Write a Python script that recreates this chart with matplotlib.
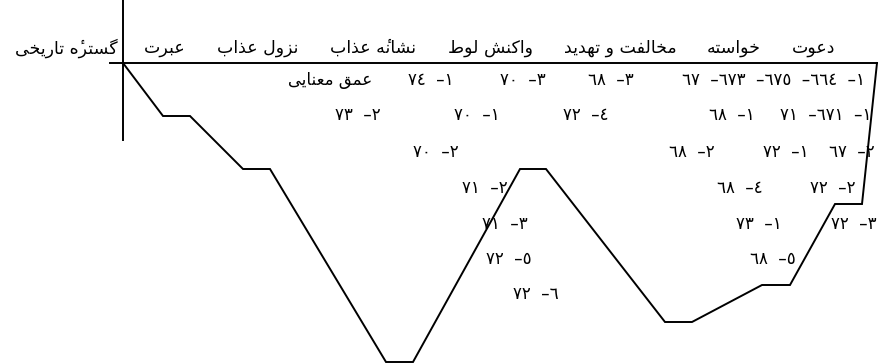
import matplotlib
matplotlib.use("Agg")
import matplotlib.pyplot as plt

# Stages (logical Persian text, right-to-left order of the original)
stage_names = ["دعوت", "خواسته", "مخالفت و تهدید", "واکنش لوط",
               "نشانۀ عذاب", "نزول عذاب", "عبرت", "گسترۀ تاریخی"]
stage_name_x = [814, 734, 620, 490, 373, 258, 165, 66]

# The depth curve
curve_x = [123, 163, 190, 243, 270, 386, 413, 520, 546, 665, 692, 762, 790, 835, 862, 877]
curve_depth = [0, 53, 53, 106, 106, 299, 299, 106, 106, 259, 259, 222, 222, 141, 141, 0]

depth_title = "عمق معنایی"

# verse references, written in visual order
verse_labels = [
    "٧٤  –١", "٧٠  –٣", "٦٨  –٣", "٦٧  –٦٧٣  –٦٧٥  –٦٦٤  –١",
    "٧٣  –٢", "٧٠  –١", "٧٢  –٤", "٦٨  –١", "٧١  –٦٧١  –١",
    "٧٠  –٢", "٦٨  –٢", "٧٢  –١", "٦٧  –٢",
    "٧١  –٢", "٦٨  –٤", "٧٢  –٢",
    "٧١  –٣", "٧٣  –١", "٧٢  –٣",
    "٧٢  –٥", "٦٨  –٥",
    "٧٢  –٦",
]
verse_x = [431, 523, 611, 773,
           358, 477, 586, 732, 826,
           436, 692, 786, 852,
           485, 740, 833,
           505, 759, 854,
           509, 773,
           536]
verse_row = [0, 0, 0, 0,
             1, 1, 1, 1, 1,
             2, 2, 2, 2,
             3, 3, 3,
             4, 4, 4,
             5, 5,
             6]
row_depth = [17, 52, 89, 125, 161, 196, 231]

# --- minimal Arabic/Persian shaping (matplotlib has no bidi / joining) ---
# forms: isolated, final[, initial, medial]
FORMS = {
    "ا": (0xFE8D, 0xFE8E), "د": (0xFEA9, 0xFEAA), "ذ": (0xFEAB, 0xFEAC),
    "ر": (0xFEAD, 0xFEAE), "ز": (0xFEAF, 0xFEB0), "و": (0xFEED, 0xFEEE),
    "ب": (0xFE8F, 0xFE90, 0xFE91, 0xFE92), "ت": (0xFE95, 0xFE96, 0xFE97, 0xFE98),
    "خ": (0xFEA5, 0xFEA6, 0xFEA7, 0xFEA8), "س": (0xFEB1, 0xFEB2, 0xFEB3, 0xFEB4),
    "ش": (0xFEB5, 0xFEB6, 0xFEB7, 0xFEB8), "ط": (0xFEC1, 0xFEC2, 0xFEC3, 0xFEC4),
    "ع": (0xFEC9, 0xFECA, 0xFECB, 0xFECC), "ف": (0xFED1, 0xFED2, 0xFED3, 0xFED4),
    "ق": (0xFED5, 0xFED6, 0xFED7, 0xFED8), "ل": (0xFEDD, 0xFEDE, 0xFEDF, 0xFEE0),
    "م": (0xFEE1, 0xFEE2, 0xFEE3, 0xFEE4), "ن": (0xFEE5, 0xFEE6, 0xFEE7, 0xFEE8),
    "ه": (0xFEE9, 0xFEEA, 0xFEEB, 0xFEEC), "ک": (0xFB8E, 0xFB8F, 0xFB90, 0xFB91),
    "گ": (0xFB92, 0xFB93, 0xFB94, 0xFB95), "ی": (0xFBFC, 0xFBFD, 0xFBFE, 0xFBFF),
}
DUAL = {k for k, v in FORMS.items() if len(v) == 4}
HAMZA_ABOVE = "\u0654"


def neighbour(text, i, step):
    j = i + step
    while 0 <= j < len(text) and text[j] == HAMZA_ABOVE:
        j += step
    return text[j] if 0 <= j < len(text) else ""


def shape(text):
    # ۀ has no presentation glyph in DejaVu: heh + combining hamza
    text = text.replace("ۀ", "ه" + HAMZA_ABOVE)
    out = []
    for i, ch in enumerate(text):
        if ch == HAMZA_ABOVE:
            # goes after its base once the string is reversed
            out.insert(len(out) - 1, ch)
            continue
        if ch not in FORMS:
            out.append(ch)
            continue
        join_prev = neighbour(text, i, -1) in DUAL
        join_next = ch in DUAL and neighbour(text, i, 1) in FORMS
        f = FORMS[ch]
        if join_prev and join_next:
            out.append(chr(f[3]))
        elif join_prev:
            out.append(chr(f[1]))
        elif join_next:
            out.append(chr(f[2]))
        else:
            out.append(chr(f[0]))
    return "".join(reversed(out))


plt.rcParams["font.family"] = ["DejaVu Sans"]

fig = plt.figure(figsize=(8.8, 3.63), dpi=100)
ax = fig.add_axes([0, 0, 1, 1])
ax.set_xlim(0, 880)
ax.set_ylim(300, -63)
ax.axis("off")

# frame: vertical axis and baseline
ax.plot([curve_x[0], curve_x[0]], [-63, 77], color="black", lw=1.4)
ax.plot([110, curve_x[-1]], [0, 0], color="black", lw=1.4)
ax.plot(curve_x, curve_depth, color="black", lw=1.4, solid_joinstyle="miter")

for name, x in zip(stage_names, stage_name_x):
    ax.text(x, -15, shape(name), ha="center", va="center", fontsize=12.5)

ax.text(330, row_depth[0], shape(depth_title), ha="center", va="center", fontsize=12)

for lab, x, r in zip(verse_labels, verse_x, verse_row):
    ax.text(x, row_depth[r], lab, ha="center", va="center", fontsize=12)

fig.savefig("out.png", dpi=100)
